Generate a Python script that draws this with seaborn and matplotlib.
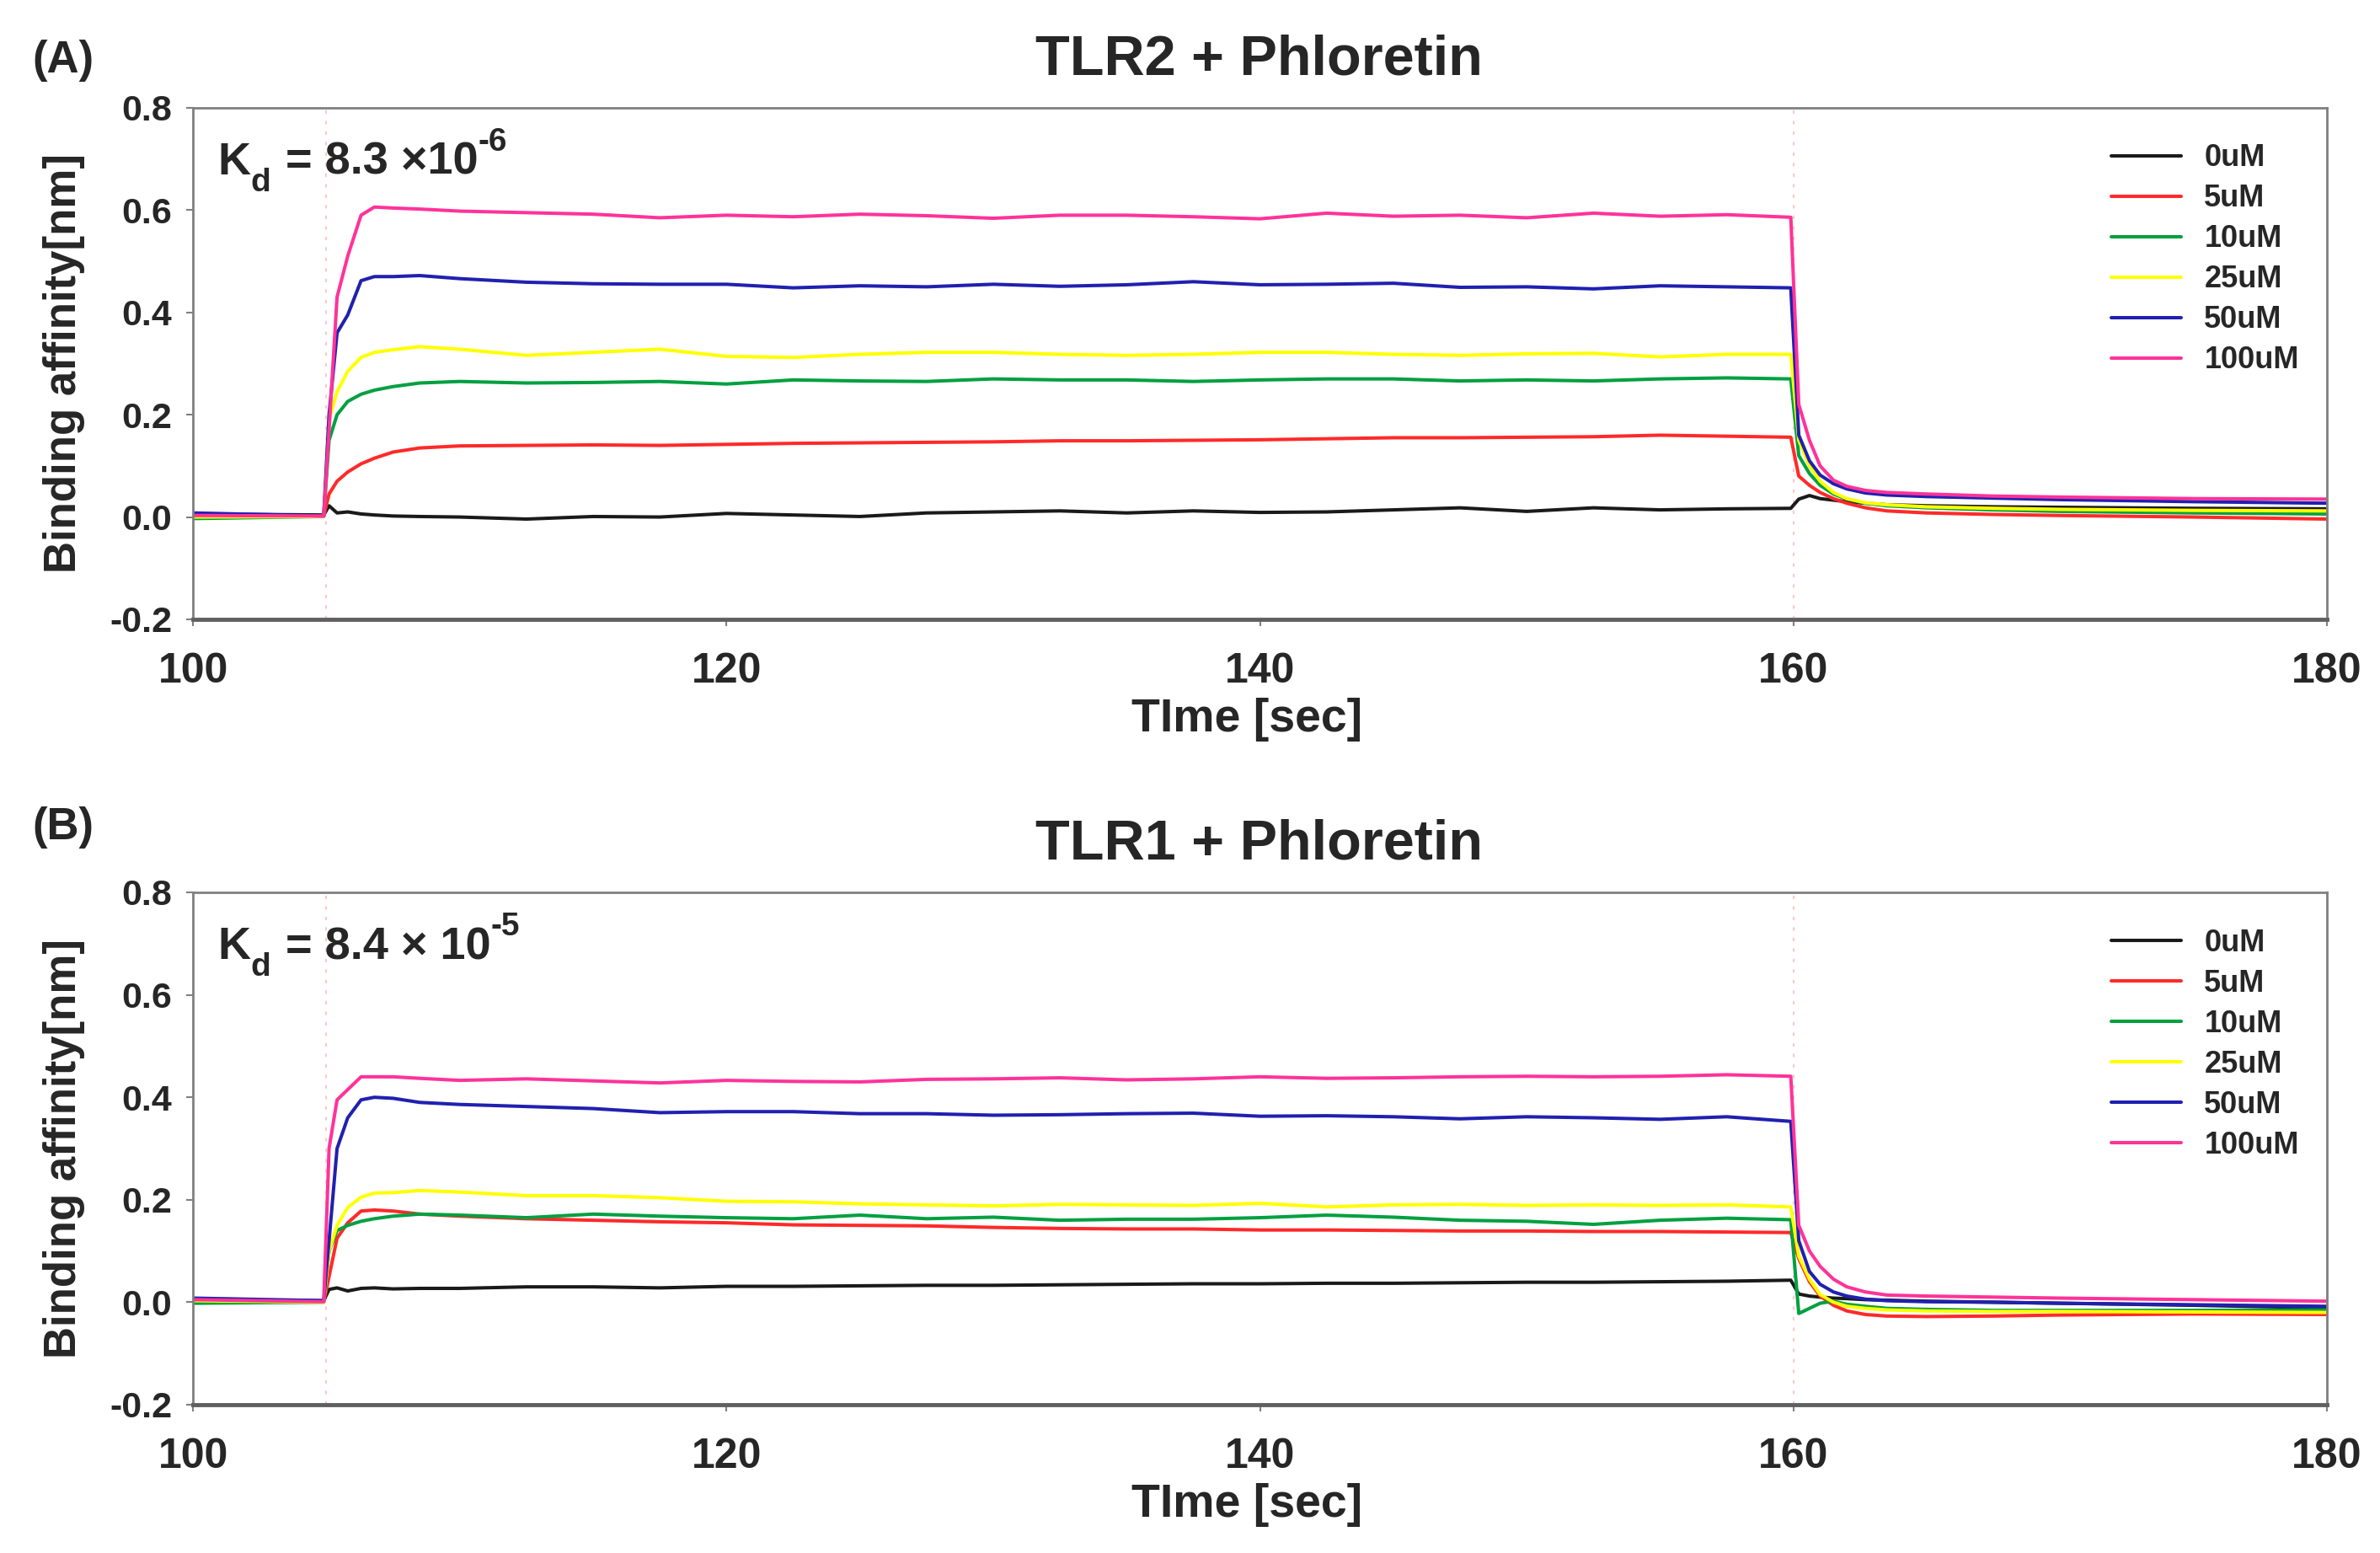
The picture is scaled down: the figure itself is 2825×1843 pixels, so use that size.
import numpy as np
import pandas as pd
import matplotlib
matplotlib.use("Agg")
import matplotlib.pyplot as plt
import seaborn as sns

# time grid [sec]
time = [100, 104.9,
        105.1, 105.4, 105.8, 106.3, 106.8,
        107.5, 108.5, 110, 112.5, 115, 117.5, 120, 122.5, 125, 127.5, 130, 132.5,
        135, 137.5, 140, 142.5, 145, 147.5, 150, 152.5, 155, 157.5, 159.9,
        160.2, 160.6, 161.0, 161.5, 162.0, 162.7, 163.5, 165, 167.5, 170, 175, 180]

concs = ["0uM", "5uM", "10uM", "25uM", "50uM", "100uM"]
colors = ["#1a1a1a", "#ff2a2a", "#00a040", "#ffff00", "#2020b0", "#ff3399"]

# (A) TLR2 + Phloretin
a_0uM = [0.006, 0.004,
         0.022, 0.008, 0.010, 0.006, 0.004,
         0.002, 0.001, 0.000, -0.004, 0.001, 0.000, 0.007, 0.004, 0.001, 0.008, 0.010, 0.012,
         0.008, 0.012, 0.009, 0.010, 0.014, 0.018, 0.011, 0.018, 0.014, 0.016, 0.017,
         0.035, 0.042, 0.036, 0.033, 0.030, 0.027, 0.024, 0.022, 0.020, 0.019, 0.017, 0.016]
a_5uM = [0.004, 0.002,
         0.045, 0.070, 0.088, 0.104, 0.115,
         0.127, 0.135, 0.139, 0.140, 0.141, 0.140, 0.142, 0.144, 0.145, 0.146, 0.147, 0.149,
         0.149, 0.150, 0.151, 0.153, 0.155, 0.155, 0.156, 0.157, 0.160, 0.158, 0.156,
         0.080, 0.062, 0.048, 0.036, 0.027, 0.018, 0.012, 0.008, 0.005, 0.003, 0.000, -0.004]
a_10uM = [-0.003, 0.001,
          0.150, 0.200, 0.226, 0.240, 0.248,
          0.255, 0.262, 0.265, 0.262, 0.263, 0.265, 0.260, 0.268, 0.266, 0.265, 0.270, 0.268,
          0.268, 0.265, 0.268, 0.270, 0.270, 0.266, 0.268, 0.266, 0.270, 0.272, 0.270,
          0.120, 0.085, 0.062, 0.045, 0.035, 0.027, 0.022, 0.018, 0.014, 0.011, 0.008, 0.006]
a_25uM = [0.000, 0.001,
          0.190, 0.245, 0.285, 0.312, 0.322,
          0.327, 0.333, 0.328, 0.316, 0.322, 0.328, 0.314, 0.312, 0.318, 0.322, 0.322, 0.318,
          0.316, 0.318, 0.322, 0.322, 0.318, 0.316, 0.319, 0.320, 0.313, 0.318, 0.318,
          0.150, 0.100, 0.070, 0.048, 0.036, 0.028, 0.024, 0.020, 0.017, 0.015, 0.013, 0.012]
a_50uM = [0.008, 0.002,
          0.200, 0.360, 0.395, 0.462, 0.470,
          0.470, 0.472, 0.466, 0.459, 0.456, 0.455, 0.455, 0.448, 0.452, 0.450, 0.455, 0.451,
          0.454, 0.460, 0.454, 0.455, 0.457, 0.449, 0.450, 0.446, 0.452, 0.450, 0.448,
          0.160, 0.110, 0.082, 0.065, 0.055, 0.047, 0.043, 0.040, 0.037, 0.034, 0.030, 0.027]
a_100uM = [0.003, 0.002,
           0.170, 0.430, 0.510, 0.590, 0.606,
           0.604, 0.602, 0.598, 0.595, 0.592, 0.585, 0.590, 0.587, 0.592, 0.589, 0.584, 0.590,
           0.590, 0.587, 0.583, 0.594, 0.588, 0.590, 0.585, 0.594, 0.588, 0.591, 0.586,
           0.220, 0.150, 0.100, 0.072, 0.060, 0.052, 0.048, 0.045, 0.041, 0.039, 0.036, 0.035]

# (B) TLR1 + Phloretin
b_0uM = [0.005, 0.003,
         0.025, 0.028, 0.022, 0.027, 0.028,
         0.026, 0.027, 0.027, 0.030, 0.030, 0.028, 0.031, 0.031, 0.032, 0.033, 0.033, 0.034,
         0.035, 0.036, 0.036, 0.037, 0.037, 0.038, 0.039, 0.039, 0.040, 0.041, 0.043,
         0.016, 0.012, 0.010, 0.008, 0.007, 0.005, 0.004, 0.002, 0.000, -0.002, -0.006, -0.011]
b_5uM = [0.004, 0.001,
         0.050, 0.125, 0.155, 0.178, 0.180,
         0.178, 0.172, 0.168, 0.163, 0.160, 0.157, 0.155, 0.151, 0.150, 0.149, 0.146, 0.144,
         0.143, 0.143, 0.141, 0.141, 0.140, 0.139, 0.139, 0.138, 0.138, 0.137, 0.136,
         0.085, 0.040, 0.012, -0.006, -0.017, -0.024, -0.027, -0.028, -0.027, -0.025, -0.023, -0.024]
b_10uM = [-0.002, 0.000,
          0.100, 0.140, 0.150, 0.158, 0.163,
          0.168, 0.172, 0.170, 0.165, 0.172, 0.168, 0.165, 0.163, 0.170, 0.163, 0.166, 0.160,
          0.162, 0.162, 0.165, 0.170, 0.166, 0.160, 0.158, 0.152, 0.160, 0.164, 0.161,
          -0.022, -0.012, -0.002, 0.002, -0.004, -0.008, -0.012, -0.014, -0.016, -0.016, -0.016, -0.015]
b_25uM = [0.003, 0.000,
          0.100, 0.150, 0.185, 0.205, 0.213,
          0.214, 0.218, 0.215, 0.208, 0.208, 0.204, 0.197, 0.196, 0.192, 0.190, 0.188, 0.191,
          0.190, 0.189, 0.193, 0.186, 0.190, 0.191, 0.189, 0.190, 0.189, 0.190, 0.186,
          0.090, 0.045, 0.015, 0.000, -0.008, -0.012, -0.015, -0.017, -0.018, -0.018, -0.019, -0.020]
b_50uM = [0.008, 0.003,
          0.120, 0.300, 0.360, 0.395, 0.400,
          0.398, 0.390, 0.386, 0.382, 0.378, 0.370, 0.372, 0.372, 0.368, 0.368, 0.365, 0.366,
          0.368, 0.369, 0.363, 0.364, 0.362, 0.358, 0.362, 0.360, 0.357, 0.362, 0.353,
          0.120, 0.060, 0.035, 0.020, 0.012, 0.006, 0.003, 0.001, 0.000, -0.002, -0.005, -0.008]
b_100uM = [0.005, 0.001,
           0.300, 0.395, 0.415, 0.440, 0.440,
           0.440, 0.437, 0.433, 0.436, 0.432, 0.428, 0.433, 0.431, 0.430, 0.435, 0.436, 0.438,
           0.434, 0.436, 0.440, 0.437, 0.438, 0.440, 0.441, 0.440, 0.441, 0.444, 0.441,
           0.150, 0.100, 0.070, 0.045, 0.030, 0.020, 0.014, 0.012, 0.010, 0.008, 0.005, 0.002]

panels = [
    ("(A)", "TLR2 + Phloretin", "8.3 \u00d710", "-6",
     [a_0uM, a_5uM, a_10uM, a_25uM, a_50uM, a_100uM]),
    ("(B)", "TLR1 + Phloretin", "8.4 \u00d7 10", "-5",
     [b_0uM, b_5uM, b_10uM, b_25uM, b_50uM, b_100uM]),
]

sns.set_style("white")
plt.rcParams['font.family'] = ['Liberation Sans', 'DejaVu Sans']
plt.rcParams['font.weight'] = 'bold'
plt.rcParams['axes.unicode_minus'] = False

fig = plt.figure(figsize=(28.25, 18.43), dpi=100)
ax_a = fig.add_axes([0.0811, 0.6012, 0.8966, 0.3294])
ax_b = fig.add_axes([0.0811, 0.0955, 0.8966, 0.3299])

# panel label / title heights (figure fraction)
label_y = [0.961, 0.467]
title_y = [0.961, 0.4563]

for i, (ax, (tag, title, kd_main, kd_exp, series)) in enumerate(zip([ax_a, ax_b], panels)):
    rows = []
    for c, vals in zip(concs, series):
        for t, v in zip(time, vals):
            rows.append({"time": t, "value": v, "conc": c})
    df = pd.DataFrame(rows)

    ax.axvline(105, color="#ffc8c8", ls=(0, (2, 4)), lw=1.5, zorder=0)
    ax.axvline(160, color="#ffc8c8", ls=(0, (2, 4)), lw=1.5, zorder=0)

    sns.lineplot(data=df, x="time", y="value", hue="conc", hue_order=concs,
                 palette=dict(zip(concs, colors)), estimator=None, sort=False,
                 lw=2.9, ax=ax)

    ax.set_xlim(100, 180)
    ax.set_ylim(-0.2, 0.8)
    ax.set_xticks([100, 120, 140, 160, 180])
    ax.set_yticks([-0.2, 0.0, 0.2, 0.4, 0.6, 0.8])
    ax.set_yticklabels(["-0.2", "0.0", "0.2", "0.4", "0.6", "0.8"])

    for s in ax.spines.values():
        s.set_color("#808080")
        s.set_linewidth(2.0)
        s.set_visible(True)
    ax.spines["bottom"].set_linewidth(3.5)
    ax.spines["bottom"].set_color("#606060")

    ax.tick_params(axis="x", direction="out", length=6, width=1.5, color="#808080",
                   pad=22, labelsize=36, bottom=True)
    ax.tick_params(axis="y", direction="out", length=6, width=1.5, color="#808080",
                   pad=12, labelsize=31, left=True)
    for lab in ax.get_xticklabels() + ax.get_yticklabels():
        lab.set_fontweight("bold")

    ax.set_xlabel("TIme [sec]", fontsize=40, fontweight="bold")
    ax.set_ylabel("Binding affinity[nm]", fontsize=38, fontweight="bold")
    ax.xaxis.label.set_va("center")
    ax.yaxis.label.set_va("center")
    ax.xaxis.set_label_coords(0.494, -0.196)
    ax.yaxis.set_label_coords(-0.0604, 0.5)

    # K_d annotation: "K", subscript "d", then value with superscript exponent
    kx, ky = 0.0115, 0.893
    t1 = ax.text(kx, ky, "K", transform=ax.transAxes, fontsize=39,
                 fontweight="bold", va="center", ha="left")
    fig.canvas.draw()
    bb = t1.get_window_extent().transformed(ax.transAxes.inverted())
    t2 = ax.text(bb.x1, ky - 0.04, "d", transform=ax.transAxes, fontsize=28,
                 fontweight="bold", va="center", ha="left")
    bb2 = t2.get_window_extent().transformed(ax.transAxes.inverted())
    t3 = ax.text(bb2.x1 + 0.001, ky, " = " + kd_main, transform=ax.transAxes,
                 fontsize=39, fontweight="bold", va="center", ha="left")
    bb3 = t3.get_window_extent().transformed(ax.transAxes.inverted())
    ax.text(bb3.x1, ky + 0.04, kd_exp, transform=ax.transAxes, fontsize=28,
            fontweight="bold", va="center", ha="left")

    handles, labels = ax.get_legend_handles_labels()
    leg = ax.legend(handles, labels, loc="upper left", bbox_to_anchor=(0.899, 0.930),
                    frameon=False, borderpad=0, borderaxespad=0, handlelength=2.3,
                    handletextpad=0.75, labelspacing=0.36,
                    prop={"weight": "bold", "size": 26})
    for h in leg.get_lines():
        h.set_linewidth(2.9)

    fig.text(0.0264, label_y[i], tag, fontsize=38, fontweight="bold",
             ha="center", va="center")
    fig.text(0.529, title_y[i], title, fontsize=48, fontweight="bold",
             ha="center", va="center")

fig.savefig("out.png", dpi=100)
